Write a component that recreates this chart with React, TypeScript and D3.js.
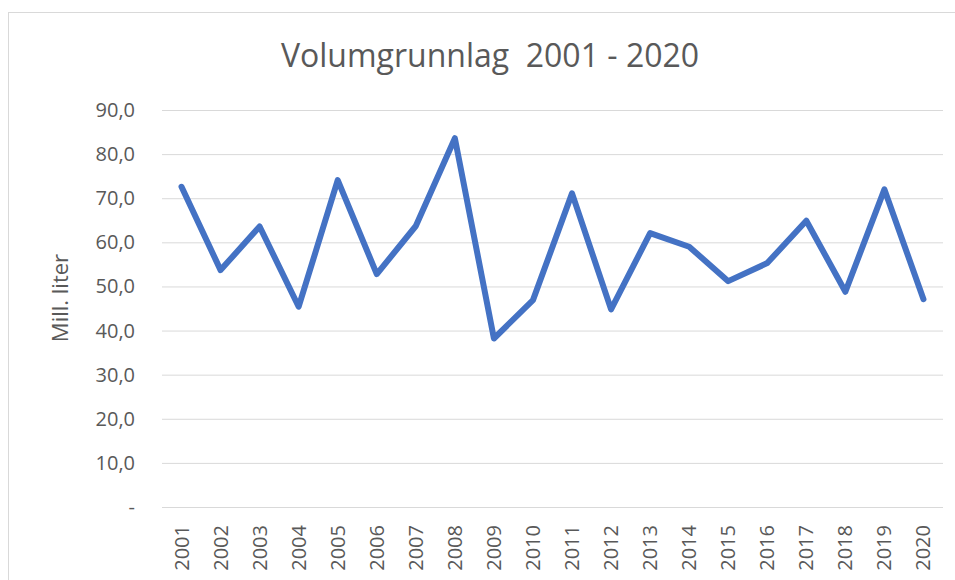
import * as React from "react"
import * as d3 from "d3"

const WIDTH = 955
const HEIGHT = 580

const years = [
  "2001", "2002", "2003", "2004", "2005", "2006", "2007", "2008", "2009", "2010",
  "2011", "2012", "2013", "2014", "2015", "2016", "2017", "2018", "2019", "2020",
]
const volumes = [
  72.6, 53.7, 63.6, 45.4, 74.1, 52.8, 63.7, 83.6, 38.2, 46.9,
  71.1, 44.8, 62.1, 59.0, 51.2, 55.3, 64.9, 48.8, 72.0, 47.1,
]
const yTicks = [0, 10, 20, 30, 40, 50, 60, 70, 80, 90]

const title = "Volumgrunnlag  2001 - 2020"
const yLabel = "Mill. liter"

const margin = { left: 162, right: 12, top: 110, bottom: 73 }
const FONT = "'Open Sans', sans-serif"
const TEXT = "#595959"

export default function App() {
  const x = d3
    .scaleBand()
    .domain(years)
    .range([margin.left, WIDTH - margin.right])
  const y = d3
    .scaleLinear()
    .domain([0, 90])
    .range([HEIGHT - margin.bottom, margin.top])

  const line = d3
    .line<number>()
    .x((d, i) => (x(years[i]) as number) + x.bandwidth() / 2)
    .y(d => y(d))

  const fmt = (v: number) => (v === 0 ? "-" : v.toFixed(1).replace(".", ","))

  return (
    <svg width={WIDTH} height={HEIGHT} style={{ position: "absolute", left: 0, top: 0 }}>
      <rect x={0} y={0} width={WIDTH} height={HEIGHT} fill="#fff" />
      <rect x={8.5} y={12.5} width={WIDTH} height={HEIGHT} fill="none" stroke="#d9d9d9" />

      <text
        x={490}
        y={67}
        textAnchor="middle"
        fontFamily={FONT}
        fontSize={32}
        fill={TEXT}
        style={{ whiteSpace: "pre" }}
      >
        {title}
      </text>

      {yTicks.map(t => (
        <g key={t}>
          <line
            x1={margin.left}
            x2={WIDTH - margin.right}
            y1={y(t) + 0.5}
            y2={y(t) + 0.5}
            stroke="#d9d9d9"
            strokeWidth={1}
          />
          <text
            x={135}
            y={y(t)}
            dy="0.35em"
            textAnchor="end"
            fontFamily={FONT}
            fontSize={20}
            fill={TEXT}
          >
            {fmt(t)}
          </text>
        </g>
      ))}

      <text
        transform={`translate(68,298) rotate(-90)`}
        textAnchor="middle"
        fontFamily={FONT}
        fontSize={22}
        fill={TEXT}
      >
        {yLabel}
      </text>

      {years.map(yr => (
        <text
          key={yr}
          transform={`translate(${(x(yr) as number) + x.bandwidth() / 2 + 7},${HEIGHT - margin.bottom + 18}) rotate(-90)`}
          textAnchor="end"
          fontFamily={FONT}
          fontSize={20}
          fill={TEXT}
        >
          {yr}
        </text>
      ))}

      <path
        d={line(volumes) || ""}
        fill="none"
        stroke="#4472C4"
        strokeWidth={6}
        strokeLinejoin="round"
        strokeLinecap="round"
      />
    </svg>
  )
}
